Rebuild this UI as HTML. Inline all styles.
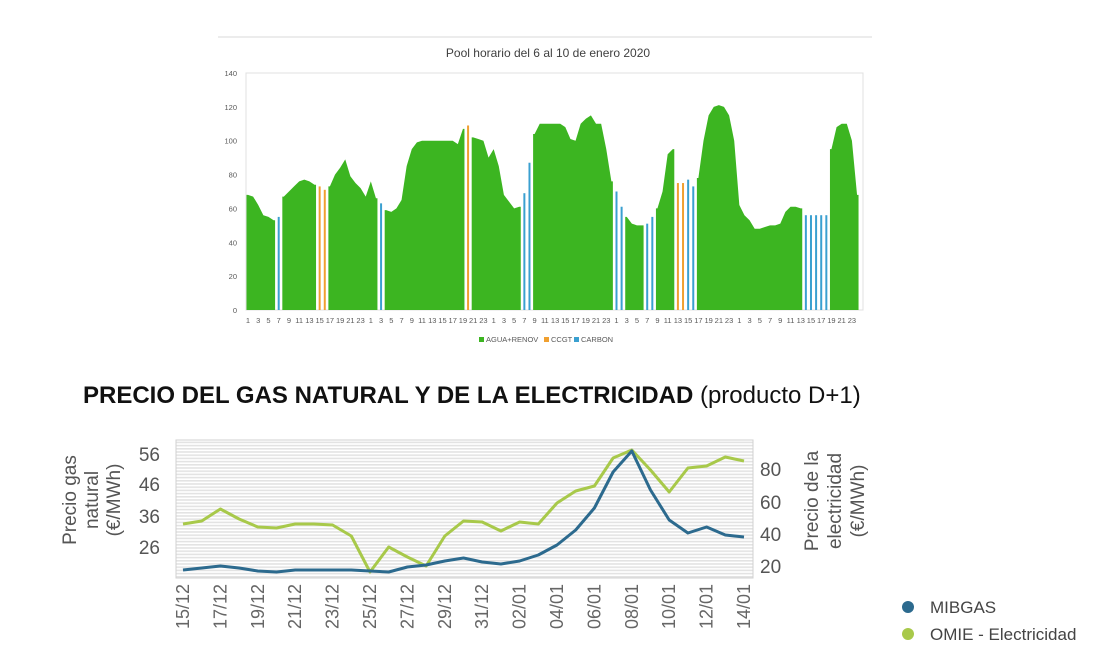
<!DOCTYPE html>
<html><head><meta charset="utf-8"><style>
body{margin:0;background:#fff;width:1108px;height:670px;overflow:hidden;font-family:"Liberation Sans",sans-serif}
</style></head><body>
<svg id="s" width="1108" height="670" xmlns="http://www.w3.org/2000/svg" style="position:absolute;left:0;top:0">
<line x1="218" y1="37" x2="872" y2="37" stroke="#d9d9d9"/>
<text x="548" y="57" font-size="12" fill="#404040" text-anchor="middle">Pool horario del 6 al 10 de enero 2020</text>
<rect x="246" y="73" width="617" height="237" fill="none" stroke="#e0e0e0"/>
<g id="topg"></g>
<g font-size="7.5" fill="#595959">
<rect x="479" y="337" width="5" height="5" fill="#3cb521"/><text x="486" y="342">AGUA+RENOV</text>
<rect x="544" y="337" width="5" height="5" fill="#f0a030"/><text x="551" y="342">CCGT</text>
<rect x="574" y="337" width="5" height="5" fill="#3aa0d0"/><text x="581" y="342">CARBON</text>
</g>
<text x="83" y="403" font-family="'Liberation Sans Narrow','Liberation Sans',sans-serif" font-size="24" fill="#111"><tspan font-weight="bold">PRECIO DEL GAS NATURAL Y DE LA ELECTRICIDAD</tspan> (producto D+1)</text>
<defs><pattern id="gr" width="10" height="3.2" patternUnits="userSpaceOnUse"><rect width="10" height="3.2" fill="#fff"/><rect width="10" height="1.6" fill="#e3e3e3"/></pattern></defs>
<rect x="176" y="440" width="577" height="138" fill="url(#gr)" stroke="#d0d0d0"/>
<g id="botg"></g>
<g font-size="19" fill="#555">
<text x="160" y="461" text-anchor="end">56</text><text x="160" y="491" text-anchor="end">46</text>
<text x="160" y="523" text-anchor="end">36</text><text x="160" y="554" text-anchor="end">26</text>
<text x="760" y="476">80</text><text x="760" y="509">60</text><text x="760" y="541">40</text><text x="760" y="573">20</text>
<g transform="translate(76,500) rotate(-90)" text-anchor="middle"><text y="0">Precio gas</text><text y="22">natural</text><text y="44">(€/MWh)</text></g>
<g transform="translate(818,501) rotate(-90)" text-anchor="middle"><text y="0">Precio de la</text><text y="23">electricidad</text><text y="46">(€/MWh)</text></g>
</g>
<circle cx="908" cy="607" r="6" fill="#2c6a8e"/><text x="930" y="613" font-size="17" fill="#444">MIBGAS</text>
<circle cx="908" cy="634" r="6" fill="#a8c94a"/><text x="930" y="640" font-size="17" fill="#444">OMIE - Electricidad</text>
</svg>
<script>
(function(){
var NS="http://www.w3.org/2000/svg";
function el(p,t,a,txt){var e=document.createElementNS(NS,t);for(var k in a)e.setAttribute(k,a[k]);if(txt!=null)e.textContent=txt;p.appendChild(e);return e;}
var G='g',C='c',O='o';
var d=[[68,G],[67,G],[62,G],[56,G],[55,G],[53,G],[55,C],[67,G],[70,G],[73,G],[76,G],[77,G],[76,G],[74,G],[73,O],[71,O],[73,G],[80,G],[84,G],[89,G],[79,G],[75,G],[72,G],[67,G],
[76,G],[66,G],[63,C],[59,G],[58,G],[60,G],[65,G],[85,G],[95,G],[99,G],[100,G],[100,G],[100,G],[100,G],[100,G],[100,G],[100,G],[98,G],[107,G],[109,O],[102,G],[101,G],[100,G],[90,G],
[95,G],[85,G],[68,G],[64,G],[60,G],[61,G],[69,C],[87,C],[104,G],[110,G],[110,G],[110,G],[110,G],[110,G],[108,G],[101,G],[100,G],[110,G],[113,G],[115,G],[110,G],[110,G],[95,G],[76,G],
[70,C],[61,C],[55,G],[51,G],[50,G],[50,G],[51,C],[55,C],[60,G],[70,G],[92,G],[95,G],[75,O],[75,O],[77,C],[73,C],[78,G],[100,G],[115,G],[120,G],[121,G],[120,G],[115,G],[100,G],
[62,G],[56,G],[53,G],[48,G],[48,G],[49,G],[50,G],[50,G],[51,G],[58,G],[61,G],[61,G],[60,G],[56,C],[56,C],[56,C],[56,C],[56,C],[95,G],[108,G],[110,G],[110,G],[100,G],[68,G]];
var tg=document.getElementById('topg');
function X(i){return 248+i*5.118;} function Y(v){return 310-v*237/140;}
var seg=[];
function flush(){if(seg.length){var pts=[];var x0=X(seg[0])-1.5,x1=X(seg[seg.length-1])+1.5;pts.push(x0+','+310);pts.push(x0+','+Y(d[seg[0]][0]));seg.forEach(function(i){pts.push(X(i)+','+Y(d[i][0]));});pts.push(x1+','+Y(d[seg[seg.length-1]][0]));pts.push(x1+',310');el(tg,'polygon',{points:pts.join(' '),fill:'#3cb521'});}seg=[];}
d.forEach(function(p,i){if(p[1]==G)seg.push(i);else{flush();el(tg,'rect',{x:X(i)-1,y:Y(p[0]),width:2,height:310-Y(p[0]),fill:p[1]==C?'#3aa0d0':'#f0a030'});}});flush();
for(var i=0;i<120;i+=2){el(tg,'text',{x:X(i),y:323,'font-size':7.5,fill:'#595959','text-anchor':'middle'},String(i%24+1));}
[0,20,40,60,80,100,120,140].forEach(function(v){el(tg,'text',{x:237,y:Y(v)+3,'font-size':7.5,fill:'#595959','text-anchor':'end'},String(v));});
var bg=document.getElementById('botg');
var blue=[570,568,566,568,571,572,570,570,570,570,571,572,567,565,561,558,562,564,561,555,545,530,508,472,451,490,520,533,527,535,537];
var grn=[524,521,509,519,527,528,524,524,525,536,572,547,557,566,536,521,522,531,522,524,503,491,486,458,450,470,492,468,466,457,461];
function BX(k){return 183+k*18.7;}
el(bg,'polyline',{points:grn.map(function(y,k){return BX(k)+','+y}).join(' '),fill:'none',stroke:'#a8c94a','stroke-width':3,'stroke-linejoin':'round'});
el(bg,'polyline',{points:blue.map(function(y,k){return BX(k)+','+y}).join(' '),fill:'none',stroke:'#2c6a8e','stroke-width':3,'stroke-linejoin':'round'});
var labs=['15/12','17/12','19/12','21/12','23/12','25/12','27/12','29/12','31/12','02/01','04/01','06/01','08/01','10/01','12/01','14/01'];
labs.forEach(function(l,j){var x=BX(j*2)+6;var g=el(bg,'g',{transform:'translate('+x+',584) rotate(-90)'});el(g,'text',{x:0,y:0,'font-size':18,fill:'#666','text-anchor':'end'},l);});
})();
</script>
</body></html>
